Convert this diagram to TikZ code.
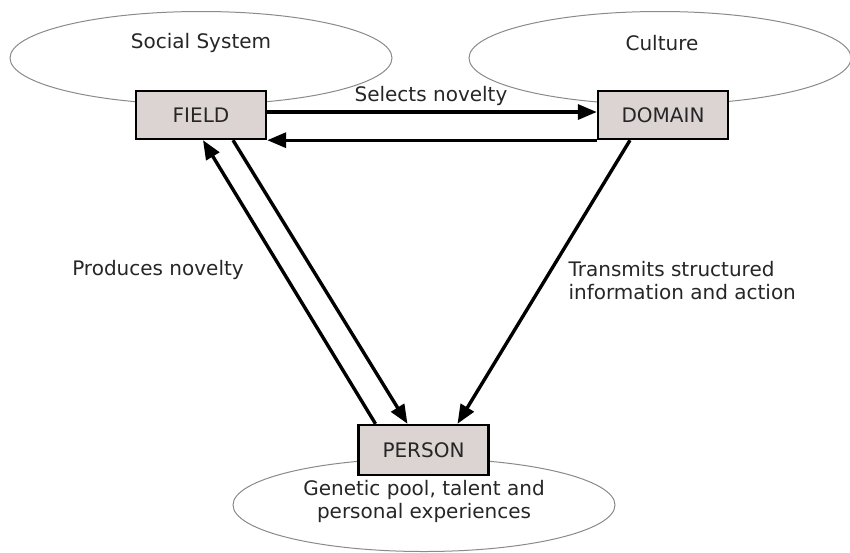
\documentclass[tikz,border=0pt]{standalone}
\usepackage{fontspec}
\setmainfont{DejaVu Sans}
\usetikzlibrary{arrows.meta,shapes.geometric}
\definecolor{boxfill}{HTML}{DCD4D2}
\definecolor{ringgray}{HTML}{8A8A8A}
\definecolor{inkgray}{HTML}{262626}

\begin{document}
\begin{tikzpicture}[x=1pt,y=-1pt,
    every node/.style={font=\fontsize{20}{23}\selectfont,text=inkgray},
    ring/.style={draw=ringgray,line width=1pt,ellipse,minimum width=382pt,minimum height=93pt,inner sep=0pt},
    agent/.style={draw=black,line width=2.4pt,fill=boxfill,minimum width=130pt,minimum height=48pt,inner sep=0pt},
    flow/.style={line width=3.4pt,-{Triangle[length=19pt,width=15pt]}}]
    \useasboundingbox (0,0) rectangle (850,552);
    % surrounding systems
    \node [ring] (social) at (201,58) {};
    \node at (201,43) {Social System};
    \node [ring] (culture) at (660,58) {};
    \node at (662,43) {Culture};
    \node [ring] (pool) at (424,505) {};
    \node [align=center] (poollabel) at (424,501) {Genetic pool, talent and\\personal experiences};
    % the three agents
    \node [agent] (field) at (201,115) {FIELD};
    \node [agent] (domain) at (663,115) {DOMAIN};
    \node [agent,minimum height=50pt] (person) at (423.5,450) {PERSON};
    % connectors
    \draw [flow] ([yshift=3pt]field.east) -- ([yshift=3pt]domain.west);
    \draw (431,96) node {Selects novelty};
    \draw [flow] (domain.south west) -- (field.south east);
    \draw [flow] ([xshift=-48pt]person.north) -- ([xshift=2pt]field.south);
    \draw (158,270) node {Produces novelty};
    \draw [flow] ([xshift=32pt]field.south) -- ([xshift=-16pt]person.north);
    \draw [flow] ([xshift=-33pt]domain.south) -- ([xshift=34pt]person.north);
    \draw (565,281) node [right,align=left] {Transmits structured\\information and action};
\end{tikzpicture}
\end{document}
